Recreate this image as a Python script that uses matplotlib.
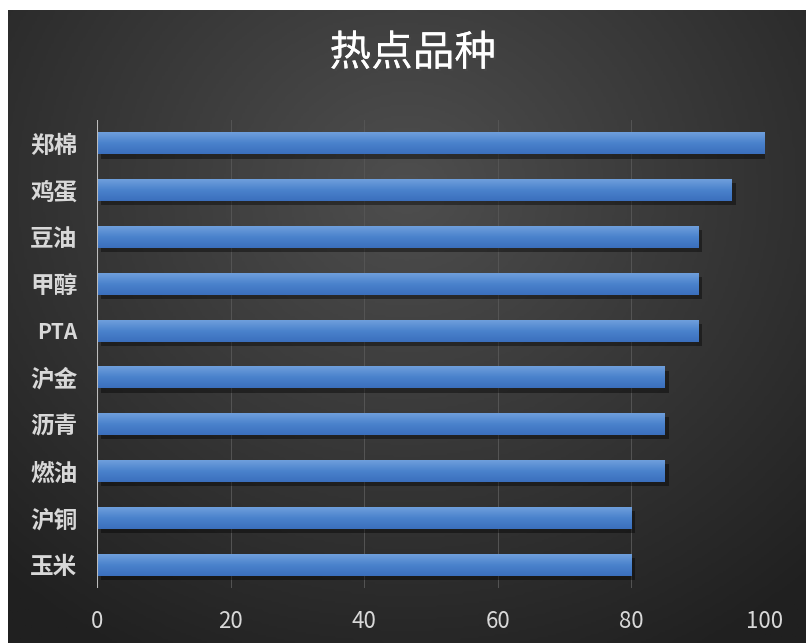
import numpy as np
import matplotlib
matplotlib.use("Agg")
import matplotlib.pyplot as plt
import matplotlib.patheffects as pe
from matplotlib.colors import LinearSegmentedColormap

plt.rcParams['font.family'] = ['Noto Sans CJK SC', 'DejaVu Sans']

# data (top to bottom)
categories = ["郑棉", "鸡蛋", "豆油", "甲醇", "PTA", "沪金", "沥青", "燃油", "沪铜", "玉米"]
values = [100, 95, 90, 90, 90, 85, 85, 85, 80, 80]
xticks = [0, 20, 40, 60, 80, 100]
title = "热点品种"

W, H = 806, 643
fig = plt.figure(figsize=(W / 100, H / 100), dpi=100, facecolor="white")

# dark radial background, leaving the thin white strip at top/left
bg = fig.add_axes([8 / W, 0, 1 - 8 / W, 1 - 10 / H])
yy, xx = np.mgrid[0:1:300j, 0:1:300j]
r = np.sqrt(((xx - 0.5) / 0.75) ** 2 + ((yy - 0.28) / 0.85) ** 2)
shade = np.clip(1 - r, 0, 1)
bg_cmap = LinearSegmentedColormap.from_list("bg", ["#202020", "#4e4e4e"])
bg.imshow(shade, cmap=bg_cmap, aspect="auto", extent=[0, 1, 0, 1], origin="upper")
bg.set_axis_off()

fig.text(0.512, 1 - 54 / H, title, color="white", fontsize=30, fontweight="normal",
         ha="center", va="center",
         path_effects=[pe.withSimplePatchShadow(offset=(1.5, -1.5), alpha=0.5), pe.Normal()])

ax = fig.add_axes([97 / W, 1 - 588 / H, 668 / W, 468 / H])
ax.set_facecolor("none")
n = len(categories)
ypos = np.arange(n)
h = 0.47

# faint vertical gridlines
for t in xticks[1:]:
    ax.axvline(t, color="#555555", lw=0.7, zorder=0)

# shadows
ax.barh(ypos + 0.09, values, height=h, left=0.6, color="black", alpha=0.4, zorder=1)

# gradient bars
bar_cmap = LinearSegmentedColormap.from_list("bar", ["#6f9fdc", "#4a82cc", "#3b6fbd"])
grad = np.linspace(0, 1, 64).reshape(-1, 1)
for y, v in zip(ypos, values):
    ax.imshow(grad, cmap=bar_cmap, aspect="auto",
              extent=[0, v, y + h / 2, y - h / 2], origin="upper", zorder=2)

ax.set_xlim(0, 100)
ax.set_ylim(n - 0.5, -0.5)
ax.axvline(0, color="#bdbdbd", lw=1.5, zorder=3)

for s in ax.spines.values():
    s.set_visible(False)
ax.set_xticks(xticks)
ax.set_xticklabels([str(t) for t in xticks], color="#d8d8d8", fontsize=16)
ax.set_yticks(ypos)
ax.set_yticklabels(categories, color="#d8d8d8", fontsize=17, fontweight="bold")
for lbl in ax.get_yticklabels():
    if lbl.get_text().isascii():
        lbl.set_fontsize(15)
ax.tick_params(length=0)
ax.tick_params(axis="y", pad=14)
ax.tick_params(axis="x", pad=16)

fig.savefig("out.png", dpi=100, facecolor="white")
